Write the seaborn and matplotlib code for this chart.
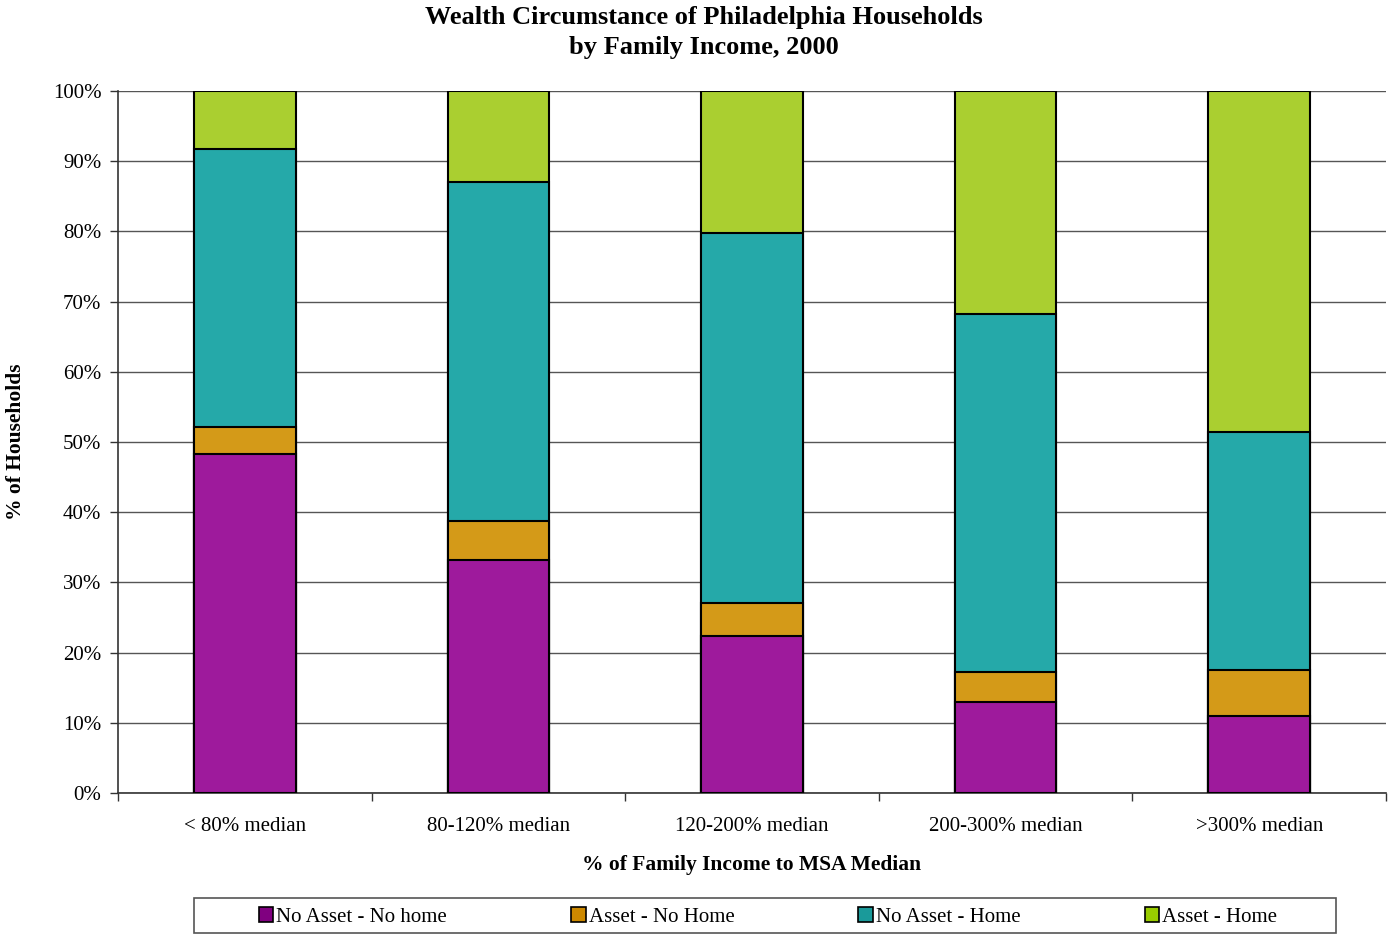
import matplotlib
matplotlib.use("Agg")
import matplotlib.pyplot as plt
import seaborn as sns
import pandas as pd
import numpy as np
from matplotlib.patches import Patch, Rectangle

categories = ["< 80% median", "80-120% median", "120-200% median", "200-300% median", ">300% median"]
no_asset_no_home = [48.3, 33.2, 22.4, 13.0, 11.0]
asset_no_home = [3.8, 5.5, 4.7, 4.2, 6.5]
no_asset_home = [39.6, 48.3, 52.7, 51.0, 33.9]
asset_home = [8.3, 13.0, 20.2, 31.8, 48.6]

series_names = ["No Asset - No home", "Asset - No Home", "No Asset - Home", "Asset - Home"]
series_vals = [no_asset_no_home, asset_no_home, no_asset_home, asset_home]
colors = ["#9E1A9C", "#D49A18", "#25A9A9", "#AACF30"]
legend_colors = ["#800080", "#CC8800", "#1A9A9A", "#99CC00"]

sns.set_style("white")
plt.rcParams["font.family"] = ["Liberation Serif", "DejaVu Serif"]
plt.rcParams["text.color"] = "black"
plt.rcParams["axes.labelcolor"] = "black"
plt.rcParams["xtick.color"] = "black"
plt.rcParams["ytick.color"] = "black"

fig = plt.figure(figsize=(13.88, 9.35), dpi=100)
ax = fig.add_axes([118/1388, (935-793)/935, (1386-118)/1388, (793-91)/935])

vals = np.array(series_vals)
cum = np.cumsum(vals, axis=0)
# draw from top layer down so lower layers overlap
for i in range(len(series_names) - 1, -1, -1):
    df = pd.DataFrame({"cat": categories, "val": cum[i]})
    sns.barplot(data=df, x="cat", y="val", color=colors[i], width=0.4,
                edgecolor="black", linewidth=1.5, ax=ax, saturation=1, zorder=3)

ax.set_ylim(0, 100)
ax.set_xlim(-0.5, 4.5)
ax.set_yticks(np.arange(0, 101, 10))
ax.set_yticklabels([f"{v}%" for v in range(0, 101, 10)], fontsize=15)
ax.yaxis.grid(True, color="#555555", linewidth=1.0, zorder=0)
ax.set_axisbelow(True)

ax.set_xticks(np.arange(-0.5, 5.0, 1.0))
ax.set_xticklabels([])
ax.set_xticks(np.arange(0, 5), minor=True)
ax.set_xticklabels(categories, minor=True, fontsize=15)
ax.tick_params(axis="x", which="minor", length=0, pad=17)
ax.tick_params(axis="x", which="major", direction="out", length=6, width=1, color="#333333", bottom=True)
ax.tick_params(axis="y", direction="out", length=6, width=1, color="#333333", left=True, pad=6)

for s in ["top", "right"]:
    ax.spines[s].set_visible(False)
ax.spines["left"].set_color("#333333")
ax.spines["bottom"].set_color("#333333")
ax.spines["left"].set_linewidth(1.2)
ax.spines["bottom"].set_linewidth(1.2)

ax.set_xlabel("% of Family Income to MSA Median", fontsize=15.5, fontweight="bold", labelpad=14)
ax.set_ylabel("% of Households", fontsize=15.5, fontweight="bold", va="center")
ax.yaxis.set_label_coords((16 - 118) / 1268, 0.5)

fig.suptitle("Wealth Circumstance of Philadelphia Households\nby Family Income, 2000",
             fontsize=19, fontweight="bold", x=704/1388, y=0.994, va="top", linespacing=1.4)

# legend box
fig.patches.append(Rectangle((194/1388, 2/935), (1336-194)/1388, 35/935, transform=fig.transFigure,
                             facecolor="white", edgecolor="#555555", linewidth=1.2))
handles = [Patch(facecolor=legend_colors[i], edgecolor="black", linewidth=1.2) for i in range(4)]
leg = fig.legend(handles, series_names, loc="center", ncol=4,
                 bbox_to_anchor=(768/1388, 18/935), frameon=False,
                 fontsize=15, handlelength=0.7, handleheight=0.7,
                 handletextpad=0.15, columnspacing=5.95, borderaxespad=0)

fig.savefig("out.png", dpi=100)
